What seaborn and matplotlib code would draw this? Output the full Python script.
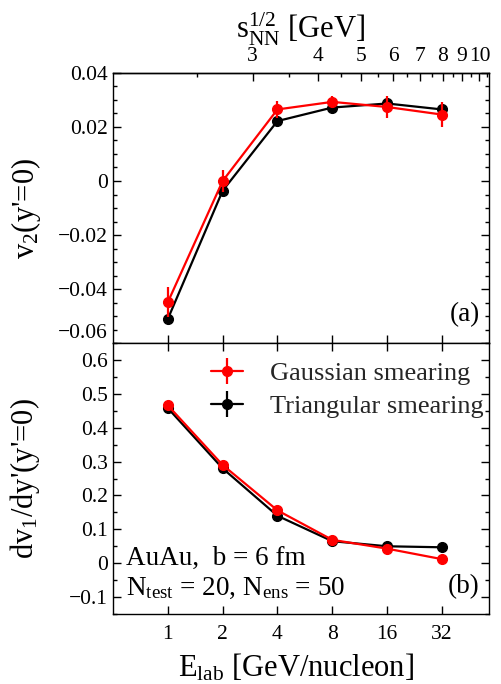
import numpy as np
import matplotlib
matplotlib.use("Agg")
import matplotlib.pyplot as plt
import seaborn as sns
from matplotlib.ticker import FixedLocator, FixedFormatter, MultipleLocator, NullLocator, NullFormatter

# ---------------- data ----------------
e_lab = [1, 2, 4, 8, 16, 32]
e_lab_labels = ["1", "2", "4", "8", "16", "32"]

v2_gauss = [-0.0449, 0.0000, 0.0265, 0.0293, 0.0274, 0.0246]
v2_gauss_err = [0.0056, 0.0040, 0.0030, 0.0020, 0.0040, 0.0046]
v2_tri = [-0.0511, -0.0036, 0.0222, 0.0272, 0.0287, 0.0265]
v2_tri_err = [0.0012, 0.0010, 0.0010, 0.0010, 0.0010, 0.0010]

dv1_gauss = [0.466, 0.290, 0.156, 0.069, 0.043, 0.012]
dv1_gauss_err = [0.004, 0.004, 0.004, 0.003, 0.003, 0.003]
dv1_tri = [0.458, 0.280, 0.140, 0.065, 0.050, 0.047]
dv1_tri_err = [0.003, 0.003, 0.003, 0.003, 0.003, 0.003]

v2_ticks = [-0.06, -0.04, -0.02, 0.0, 0.02, 0.04]
v2_tick_labels = ["\u22120.06", "\u22120.04", "\u22120.02", "0", "0.02", "0.04"]
dv1_ticks = [-0.1, 0.0, 0.1, 0.2, 0.3, 0.4, 0.5, 0.6]
dv1_tick_labels = ["\u22120.1", "0", "0.1", "0.2", "0.3", "0.4", "0.5", "0.6"]

sqrt_s_major = [3, 4, 5, 6, 7, 8, 9, 10]
sqrt_s_major_labels = ["3", "4", "5", "6", "7", "8", "9", "10"]
sqrt_s_minor = [2.5, 3.5, 4.5, 5.5, 6.5, 7.5, 8.5, 9.5, 10.5]

series_names = ["Gaussian smearing", "Triangular smearing"]
series_colors = ["#ff0000", "#000000"]

M_N = 0.938  # nucleon mass, GeV

# ---------------- style ----------------
sns.set_theme(style="ticks")
plt.rcParams["font.family"] = ["Liberation Serif", "DejaVu Serif"]
plt.rcParams["mathtext.fontset"] = "custom"
plt.rcParams["mathtext.rm"] = "Liberation Serif"
plt.rcParams["mathtext.it"] = "Liberation Serif:italic"
plt.rcParams["mathtext.bf"] = "Liberation Serif:bold"
plt.rcParams["axes.linewidth"] = 1.0
plt.rcParams["axes.edgecolor"] = "black"

TICK_FS = 15.5
LABEL_FS = 22
TEXT_FS = 19.5
LEGEND_FS = 19

fig = plt.figure(figsize=(5.01, 6.84), dpi=100)
ax_top = fig.add_axes([0.2255, 0.4985, 0.7505, 0.3948])
ax_bot = fig.add_axes([0.2255, 0.1023, 0.7505, 0.3962])


def e_to_sqrts(e):
    e = np.asarray(e, dtype=float)
    return np.sqrt(np.maximum(2 * M_N * (e + 2 * M_N), 1e-12))


def sqrts_to_e(s):
    s = np.asarray(s, dtype=float)
    return np.maximum(s ** 2 / (2 * M_N) - 2 * M_N, 1e-6)


def style_axis(ax):
    ax.set_xscale("log", base=2)
    ax.set_xlim(0.5, 58)
    ax.xaxis.set_major_locator(FixedLocator(e_lab))
    ax.xaxis.set_major_formatter(FixedFormatter(e_lab_labels))
    ax.xaxis.set_minor_locator(NullLocator())
    ax.tick_params(which="both", direction="in", colors="black", labelcolor="black",
                   labelsize=TICK_FS, width=1.0, right=True, left=True)
    ax.tick_params(which="major", length=6)
    ax.tick_params(which="minor", length=3)
    ax.tick_params(axis="x", which="major", pad=8)
    for sp in ax.spines.values():
        sp.set_color("black")
        sp.set_linewidth(1.0)
    ax.set_facecolor("white")


def draw(ax, gy, gerr, ty, terr):
    h_t = ax.errorbar(e_lab, ty, yerr=terr, fmt="-o", color=series_colors[1],
                      ms=7, lw=1.6, elinewidth=1.6, capsize=0, label=series_names[1], zorder=3)
    h_g = ax.errorbar(e_lab, gy, yerr=gerr, fmt="-o", color=series_colors[0],
                      ms=7, lw=1.6, elinewidth=1.6, capsize=0, label=series_names[0], zorder=4)
    return h_g, h_t


# ---------------- top panel ----------------
draw(ax_top, v2_gauss, v2_gauss_err, v2_tri, v2_tri_err)
style_axis(ax_top)
ax_top.set_ylim(-0.06, 0.04)
ax_top.yaxis.set_major_locator(FixedLocator(v2_ticks))
ax_top.yaxis.set_major_formatter(FixedFormatter(v2_tick_labels))
ax_top.yaxis.set_minor_locator(MultipleLocator(0.005))
ax_top.tick_params(axis="x", which="both", top=False, bottom=True, labelbottom=False)
ax_top.set_ylabel("v$_2$(y'=0)", fontsize=LABEL_FS, color="black")
ax_top.yaxis.set_label_coords(-0.186, 0.5)
ax_top.text(0.976, 0.104, "(a)", transform=ax_top.transAxes, ha="right", va="center",
            fontsize=TEXT_FS, color="black")

sec = ax_top.secondary_xaxis("top", functions=(e_to_sqrts, sqrts_to_e))
sec.xaxis.set_major_locator(FixedLocator(sqrt_s_major))
sec.xaxis.set_major_formatter(FixedFormatter(sqrt_s_major_labels))
sec.xaxis.set_minor_locator(FixedLocator(sqrt_s_minor))
sec.xaxis.set_minor_formatter(NullFormatter())
sec.tick_params(which="both", direction="in", labelsize=TICK_FS, width=1.0, colors="black")
sec.tick_params(which="major", length=6, pad=5)
sec.tick_params(which="minor", length=3)
sec.set_xlabel(r"s$_{\rm NN}^{1/2}$ [GeV]", fontsize=LABEL_FS, color="black", labelpad=6)

# ---------------- bottom panel ----------------
h_g, h_t = draw(ax_bot, dv1_gauss, dv1_gauss_err, dv1_tri, dv1_tri_err)
style_axis(ax_bot)
ax_bot.set_ylim(-0.15, 0.65)
ax_bot.yaxis.set_major_locator(FixedLocator(dv1_ticks))
ax_bot.yaxis.set_major_formatter(FixedFormatter(dv1_tick_labels))
ax_bot.yaxis.set_minor_locator(MultipleLocator(0.05))
ax_bot.tick_params(axis="x", which="both", top=True, bottom=True)
ax_bot.set_ylabel("dv$_1$/dy'(y'=0)", fontsize=LABEL_FS, color="black")
ax_bot.yaxis.set_label_coords(-0.19, 0.5)
ax_bot.set_xlabel(r"E$_{\rm lab}$ [GeV/nucleon]", fontsize=LABEL_FS, color="black")
ax_bot.xaxis.set_label_coords(0.486, -0.232)
ax_bot.xaxis.label.set_va("baseline")

ax_bot.legend([h_g, h_t], series_names, loc="upper left", bbox_to_anchor=(0.262, 0.93),
              frameon=False, fontsize=LEGEND_FS, handlelength=1.2, handletextpad=1.0,
              labelspacing=0.36, borderpad=0.0, borderaxespad=0.0)

ax_bot.text(0.035, 0.207, "AuAu,  b = 6 fm", transform=ax_bot.transAxes, ha="left",
            va="center", fontsize=TEXT_FS, color="black")
ax_bot.text(0.035, 0.096, r"N$_{\rm test}$ = 20, N$_{\rm ens}$ = 50", transform=ax_bot.transAxes,
            ha="left", va="center", fontsize=TEXT_FS, color="black")
ax_bot.text(0.976, 0.10, "(b)", transform=ax_bot.transAxes, ha="right", va="center",
            fontsize=TEXT_FS, color="black")

# lift the lowest top-panel tick label slightly, as in the reference
fig.canvas.draw()
first_tick = ax_top.yaxis.get_major_ticks()[0]
first_tick.label1.set_va("bottom")

fig.savefig("out.png", dpi=100, facecolor="white")
